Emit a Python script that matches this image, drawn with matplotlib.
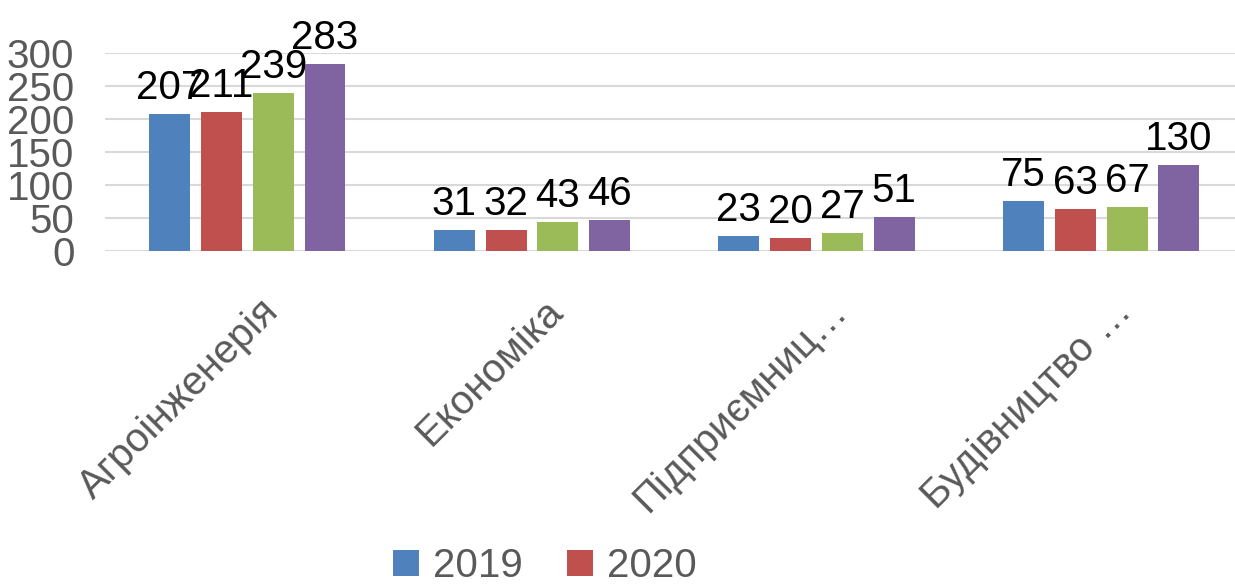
import numpy as np
import matplotlib
matplotlib.use("Agg")
import matplotlib.pyplot as plt

plt.rcParams['font.family'] = ['Liberation Sans', 'DejaVu Sans']

categories = ['Агроінженерія', 'Економіка', 'Підприємниц…', 'Будівництво …']
series = ['2019', '2020', '2021', '2022']
v2019 = [207, 31, 23, 75]
v2020 = [211, 32, 20, 63]
v2021 = [239, 43, 27, 67]
v2022 = [283, 46, 51, 130]
values = [v2019, v2020, v2021, v2022]
colors = ['#4F81BD', '#C0504D', '#9BBB59', '#8064A2']
yticks = [0, 50, 100, 150, 200, 250, 300]

fs = 29
fig = plt.figure(figsize=(12.35, 5.86), dpi=100)
ax = fig.add_axes([0.085, 0.572, 0.915, 0.338])

x = np.arange(len(categories))
step = 0.182
width = 0.144
handles = []
for i, (name, vals, c) in enumerate(zip(series, values, colors)):
    bars = ax.bar(x + (i - 1.5) * step, vals, width, color=c, label=name, zorder=3)
    handles.append(bars)
    for b, v in zip(bars, vals):
        ax.annotate(str(v), (b.get_x() + b.get_width() / 2, v),
                    xytext=(0, 5), textcoords='offset points',
                    ha='center', va='bottom', fontsize=fs, color='black')

ax.set_xlim(-0.5, 3.47)
ax.set_ylim(0, 300)
ax.set_yticks(yticks)
ax.set_xticks(x)
ax.set_xticklabels([])
# rotated category labels, drawn by hand so they can sit a bit right of the tick
for xi, cat in zip(x, categories):
    ax.annotate(cat, (xi, 0), xytext=(18, -39), textcoords='offset points',
                rotation=45, ha='right', va='center', rotation_mode='anchor',
                fontsize=fs, color='#595959', annotation_clip=False)
ax.tick_params(axis='y', length=0, labelsize=fs, labelcolor='#595959', pad=22)
ax.tick_params(axis='x', length=0)
ax.grid(axis='y', color='#D9D9D9', linewidth=1.5, zorder=0)
for s in ax.spines.values():
    s.set_visible(False)

# only the first two legend entries are visible in the picture
fig.legend(handles[:2], series[:2], loc='lower left', bbox_to_anchor=(0.300, -0.036),
           ncol=2, frameon=False, fontsize=fs, labelcolor='#595959',
           handlelength=0.65, handleheight=0.6, handletextpad=0.35,
           columnspacing=1.1, borderpad=0.05)

fig.savefig('out.png', dpi=100)
